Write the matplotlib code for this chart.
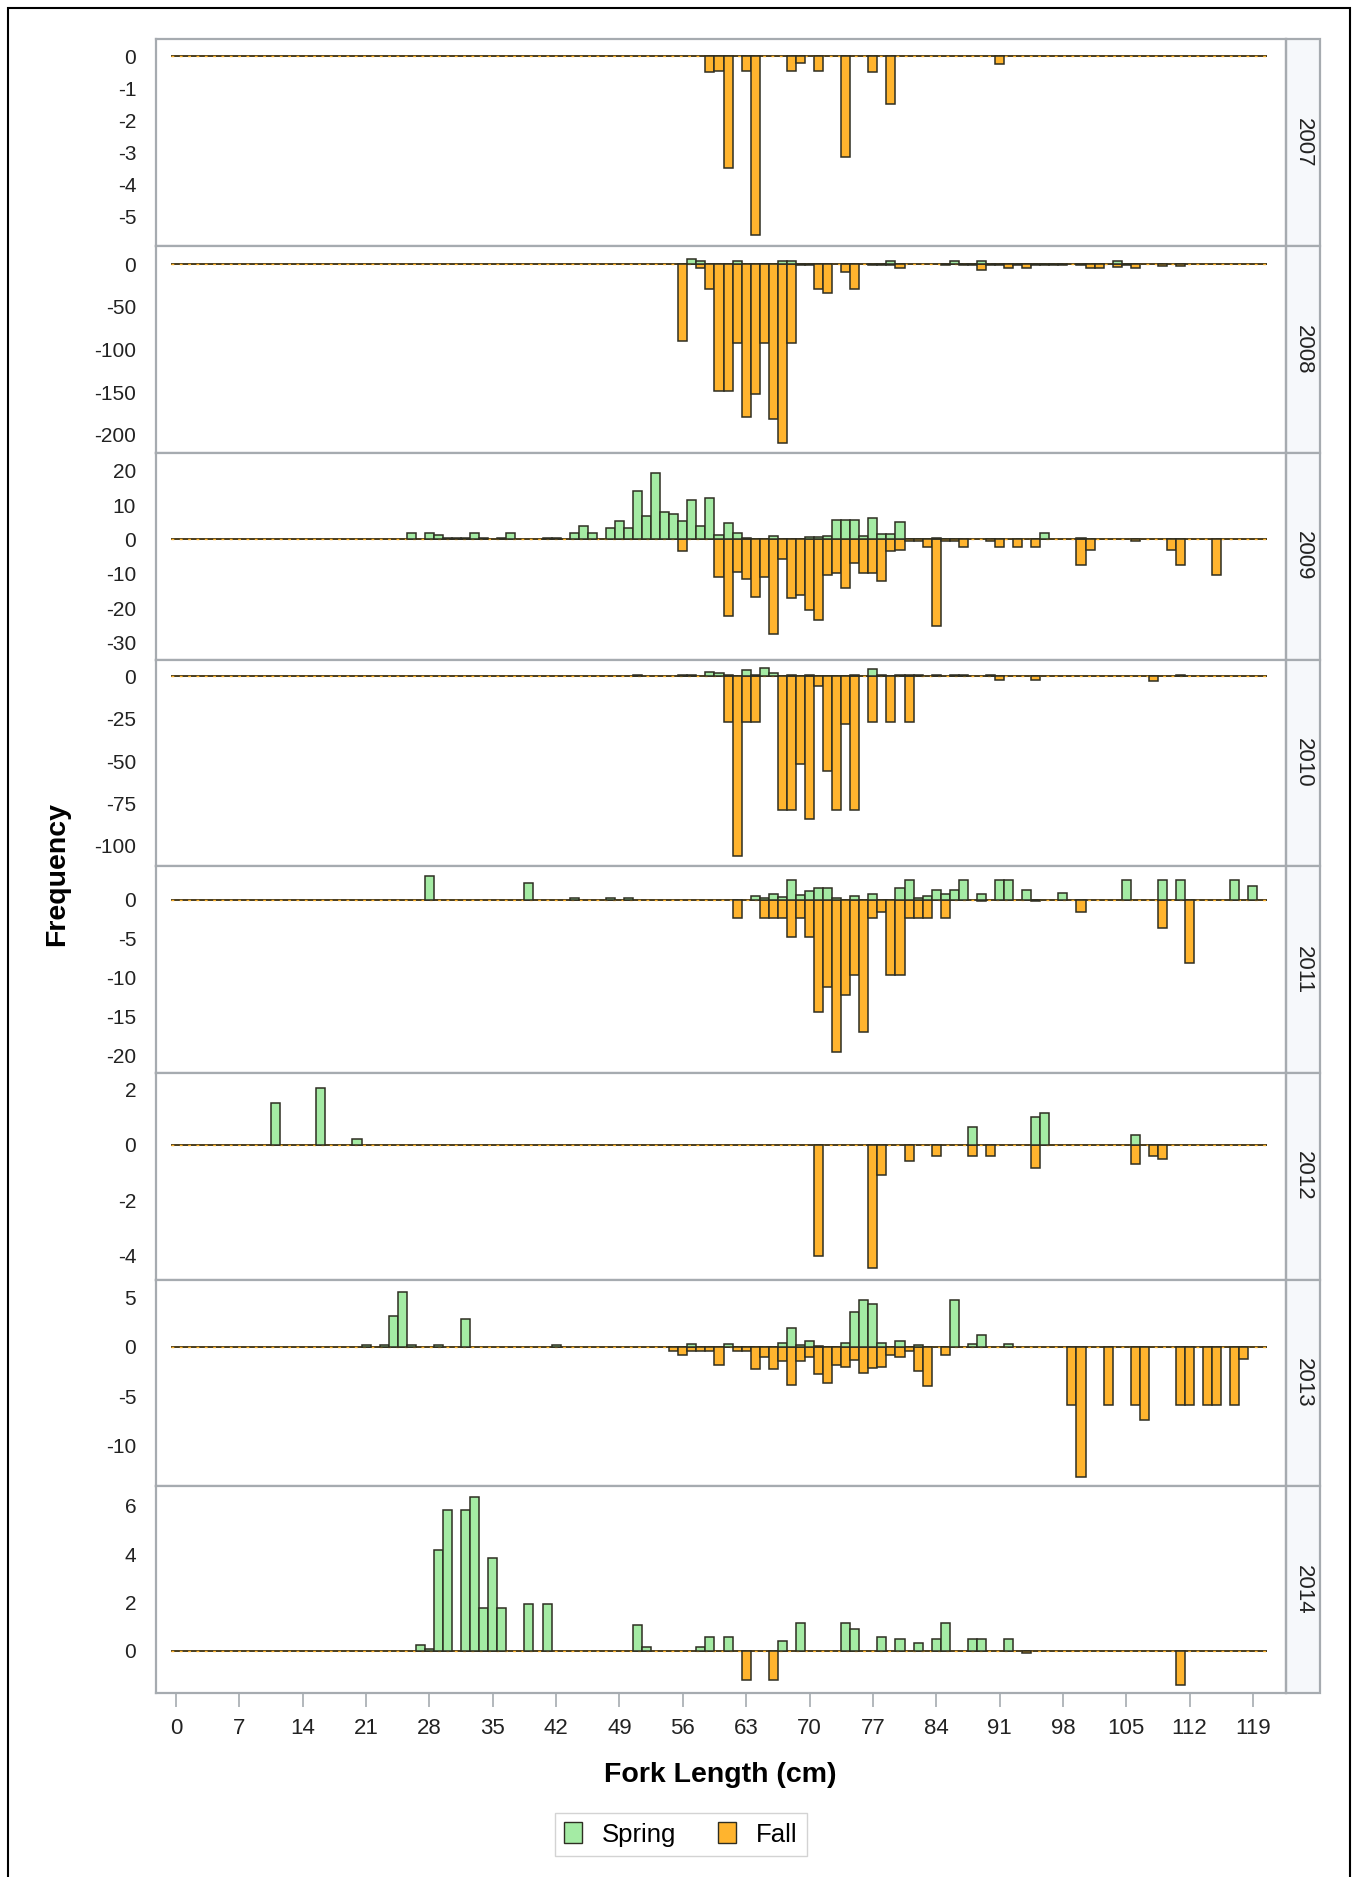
import matplotlib.pyplot as plt
from matplotlib.patches import Patch, Rectangle

plt.rcParams['font.family'] = ['Liberation Sans', 'DejaVu Sans']

# ---- data: spring counts (positive) and fall counts (shown negative) per year ----
spring_2007_len = []
spring_2007_val = []
fall_2007_len = [59, 60, 61, 63, 64, 68, 69, 71, 74, 77, 79, 91]
fall_2007_val = [-0.5, -0.45, -3.5, -0.45, -5.6, -0.45, -0.2, -0.45, -3.15, -0.5, -1.5, -0.25]

spring_2008_len = [57, 58, 62, 67, 68, 79, 86, 89, 104]
spring_2008_val = [6, 3, 3, 3, 3, 3, 3, 4, 4]
fall_2008_len = [56, 58, 59, 60, 61, 62, 63, 64, 65, 66, 67, 68, 69, 70, 71, 72, 74, 75, 77, 78,
                 79, 80, 85, 87, 88, 89, 90, 91, 92, 93, 94, 95, 96, 97, 98, 100, 101, 102, 104,
                 105, 106, 109, 111]
fall_2008_val = [-90, -5, -29, -149, -149, -92, -179, -152, -92, -181, -209, -92, -1.5, -1.5, -29,
                 -34, -9, -29, -1.5, -1.5, -1.5, -5, -1.5, -1.5, -1.5, -7, -1.5, -1.5, -5, -1.5,
                 -5, -1.5, -1.5, -1.5, -1.5, -1.5, -5, -5, -4, -1.5, -5, -2, -2]

spring_2009_len = [26, 28, 29, 30, 31, 32, 33, 34, 36, 37, 41, 42, 44, 45, 46, 48, 49, 50, 51, 52,
                   53, 54, 55, 56, 57, 58, 59, 60, 61, 62, 63, 66, 70, 71, 72, 73, 74, 75, 76, 77,
                   78, 79, 80, 84, 96, 100]
spring_2009_val = [1.75, 1.75, 1.2, 0.5, 0.5, 0.5, 1.75, 0.5, 0.5, 1.75, 0.5, 0.5, 1.75, 4.0, 1.75,
                   3.3, 5.2, 3.3, 14.2, 6.9, 19.4, 8.0, 7.4, 5.2, 11.4, 4.0, 12.0, 1.2, 4.7, 1.75,
                   0.3, 1.0, 0.6, 0.6, 1.0, 5.6, 5.6, 5.6, 1.0, 6.2, 1.5, 1.5, 5.1, 0.5, 1.75, 0.5]
fall_2009_len = [56, 60, 61, 62, 63, 64, 65, 66, 67, 68, 69, 70, 71, 72, 73, 74, 75, 76, 77, 78,
                 79, 80, 81, 82, 83, 84, 85, 86, 87, 90, 91, 93, 95, 100, 101, 106, 110, 111, 115]
fall_2009_val = [-3.5, -11.0, -22.3, -9.6, -11.5, -16.7, -11.0, -27.6, -5.7, -17.2, -16.2, -20.7,
                 -23.6, -10.3, -9.8, -14.3, -6.9, -9.8, -9.8, -12.1, -3.5, -3.1, -0.5, -0.5, -2.3,
                 -25.1, -0.5, -0.5, -2.3, -0.5, -2.3, -2.3, -2.3, -7.6, -3.0, -0.5, -3.0, -7.6,
                 -10.3]

spring_2010_len = [51, 56, 57, 59, 60, 61, 63, 64, 65, 66, 68, 70, 75, 77, 78, 80, 81, 82, 84, 86,
                   87, 90, 111]
spring_2010_val = [1, 1, 1, 2.6, 2, 1, 3.6, 1, 5, 2, 1, 1, 1, 4.5, 1, 1, 1, 1, 1, 1, 1, 1, 1]
fall_2010_len = [61, 62, 63, 64, 67, 68, 69, 70, 71, 72, 73, 74, 75, 77, 79, 81, 91, 95, 108]
fall_2010_val = [-27, -106, -27, -27, -79, -79, -52, -84, -6, -56, -79, -28, -79, -27, -27, -27,
                 -2, -2, -2.6]

spring_2011_len = [28, 39, 44, 48, 50, 64, 65, 66, 67, 68, 69, 70, 71, 72, 73, 75, 77, 80, 81, 82,
                   83, 84, 85, 86, 87, 89, 91, 92, 94, 98, 105, 109, 111, 117, 119]
spring_2011_val = [2.98, 2.2, 0.2, 0.2, 0.2, 0.43, 0.2, 0.7, 0.4, 2.5, 0.6, 1.17, 1.47, 1.47, 0.2,
                   0.43, 0.7, 1.47, 2.5, 0.2, 0.43, 1.2, 0.7, 1.2, 2.5, 0.7, 2.5, 2.5, 1.2, 0.9,
                   2.5, 2.5, 2.5, 2.5, 1.7]
fall_2011_len = [62, 65, 66, 67, 68, 69, 70, 71, 72, 73, 74, 75, 76, 77, 78, 79, 80, 81, 82, 83,
                 85, 89, 95, 100, 109, 112]
fall_2011_val = [-2.3, -2.3, -2.3, -2.3, -4.8, -2.3, -4.8, -14.5, -11.3, -19.6, -12.3, -9.7, -17.0,
                 -2.3, -1.6, -9.7, -9.7, -2.3, -2.3, -2.3, -2.3, -0.2, -0.2, -1.6, -3.6, -8.2]

spring_2012_len = [11, 16, 20, 88, 95, 96, 106]
spring_2012_val = [1.5, 2.05, 0.2, 0.65, 1.0, 1.15, 0.35]
fall_2012_len = [71, 77, 78, 81, 84, 88, 90, 95, 106, 108, 109]
fall_2012_val = [-4.0, -4.45, -1.1, -0.6, -0.4, -0.4, -0.4, -0.85, -0.7, -0.4, -0.5]

spring_2013_len = [21, 23, 24, 25, 26, 29, 32, 42, 57, 61, 67, 68, 69, 70, 71, 74, 75, 76, 77, 78,
                   80, 82, 86, 88, 89, 92]
spring_2013_val = [0.2, 0.2, 3.1, 5.6, 0.2, 0.2, 2.8, 0.2, 0.25, 0.25, 0.4, 1.94, 0.15, 0.58, 0.1,
                   0.37, 3.57, 4.76, 4.3, 0.37, 0.58, 0.15, 4.76, 0.34, 1.16, 0.34]
fall_2013_len = [55, 56, 57, 58, 59, 60, 62, 63, 64, 65, 66, 67, 68, 69, 70, 71, 72, 73, 74, 75,
                 76, 77, 78, 79, 80, 81, 82, 83, 85, 99, 100, 103, 106, 107, 111, 112, 114, 115,
                 117, 118]
fall_2013_val = [-0.45, -0.85, -0.4, -0.4, -0.4, -1.87, -0.4, -0.4, -2.2, -1.05, -2.2, -1.4, -3.84,
                 -1.4, -1.0, -2.75, -3.67, -1.8, -2.04, -1.36, -2.65, -2.14, -2.04, -0.78, -1.0,
                 -0.37, -2.48, -4.0, -0.85, -5.88, -13.2, -5.88, -5.88, -7.4, -5.88, -5.88, -5.88,
                 -5.88, -5.88, -1.22]

spring_2014_len = [27, 28, 29, 30, 32, 33, 34, 35, 36, 39, 41, 51, 52, 58, 59, 61, 67, 69, 74, 75,
                   78, 80, 82, 84, 85, 88, 89, 92]
spring_2014_val = [0.24, 0.08, 4.15, 5.81, 5.81, 6.37, 1.78, 3.83, 1.78, 1.95, 1.95, 1.07, 0.17,
                   0.17, 0.56, 0.56, 0.4, 1.14, 1.14, 0.9, 0.56, 0.49, 0.32, 0.49, 1.14, 0.49,
                   0.49, 0.49]
fall_2014_len = [63, 66, 94, 111]
fall_2014_val = [-1.23, -1.23, -0.1, -1.4]

years = [2007, 2008, 2009, 2010, 2011, 2012, 2013, 2014]
spring = [(spring_2007_len, spring_2007_val), (spring_2008_len, spring_2008_val),
          (spring_2009_len, spring_2009_val), (spring_2010_len, spring_2010_val),
          (spring_2011_len, spring_2011_val), (spring_2012_len, spring_2012_val),
          (spring_2013_len, spring_2013_val), (spring_2014_len, spring_2014_val)]
fall = [(fall_2007_len, fall_2007_val), (fall_2008_len, fall_2008_val),
        (fall_2009_len, fall_2009_val), (fall_2010_len, fall_2010_val),
        (fall_2011_len, fall_2011_val), (fall_2012_len, fall_2012_val),
        (fall_2013_len, fall_2013_val), (fall_2014_len, fall_2014_val)]

y_ticks = [[0, -1, -2, -3, -4, -5], [0, -50, -100, -150, -200], [20, 10, 0, -10, -20, -30],
           [0, -25, -50, -75, -100], [0, -5, -10, -15, -20], [2, 0, -2, -4], [5, 0, -5, -10],
           [6, 4, 2, 0]]
y_limits = [(-5.94, 0.53), (-221, 21), (-35, 25.2), (-112, 9.9), (-22.3, 4.3), (-4.87, 2.6),
            (-14.1, 6.8), (-1.75, 6.8)]
x_ticks = list(range(0, 120, 7))

GREEN = '#a4eba4'
ORANGE = '#ffb42e'
EDGE = '#2e2e22'
FRAME = '#a6abb0'

fig, axes = plt.subplots(8, 1, sharex=True, figsize=(13.57, 18.77), dpi=100)
fig.subplots_adjust(left=0.1147, right=0.948, top=0.979, bottom=0.098, hspace=0)

for i, ax in enumerate(axes):
    # zero line made of empty bins
    ax.hlines(0, -0.5, 120.5, color='#4a3c1c', lw=1.4, zorder=2)
    ax.hlines(0, -0.5, 120.5, color='#ffb42e', lw=1.0, linestyles=(0, (2, 4)), zorder=2.1)
    fl, fv = fall[i]
    ax.bar(fl, fv, width=1.0, color=ORANGE, edgecolor=EDGE, linewidth=1.1, zorder=3)
    sl, sv = spring[i]
    ax.bar(sl, sv, width=1.0, color=GREEN, edgecolor=EDGE, linewidth=1.1, zorder=3)

    ax.set_ylim(*y_limits[i])
    ax.set_yticks(y_ticks[i])
    ax.set_yticklabels([str(t) for t in y_ticks[i]])
    ax.set_xlim(-2.25, 122.7)
    ax.tick_params(axis='y', length=0, pad=14, labelsize=15, labelcolor='#222222')
    for s in ax.spines.values():
        s.set_color(FRAME)
        s.set_linewidth(1.6)

    # year strip on the right
    ax.add_patch(Rectangle((1.0, 0.0), 0.030, 1.0, transform=ax.transAxes, clip_on=False,
                           facecolor='#f6f8fb', edgecolor=FRAME, linewidth=1.6))
    ax.text(1.015, 0.5, str(years[i]), transform=ax.transAxes, rotation=270,
            ha='center', va='center', fontsize=16, color='#222222')

    if i < len(axes) - 1:
        ax.tick_params(axis='x', length=0, labelbottom=False)

axes[-1].set_xticks(x_ticks)
axes[-1].tick_params(axis='x', direction='out', length=10, width=1.2, color=FRAME,
                     pad=8, labelsize=16, labelcolor='#222222')

fig.text(0.0423, 0.5346, 'Frequency', rotation=90, ha='center', va='center',
         fontsize=20.5, fontweight='bold')
fig.text(0.531, 0.0546, 'Fork Length (cm)', ha='center', va='center',
         fontsize=20.5, fontweight='bold')

handles = [Patch(facecolor=GREEN, edgecolor=EDGE, label='Spring'),
           Patch(facecolor=ORANGE, edgecolor=EDGE, label='Fall')]
leg = fig.legend(handles=handles, loc='center', bbox_to_anchor=(0.5017, 0.0227), ncol=2,
                 fontsize=18.5, frameon=True, fancybox=False, edgecolor='#c8c8c8',
                 handlelength=0.7, handleheight=0.9, columnspacing=1.6, borderpad=0.35,
                 borderaxespad=0.0)

fig.patches.append(Rectangle((0.0062, -0.01), 0.9885, 1.0055, transform=fig.transFigure,
                             fill=False, edgecolor='black', linewidth=1.5))

fig.savefig('out.png', dpi=100)
